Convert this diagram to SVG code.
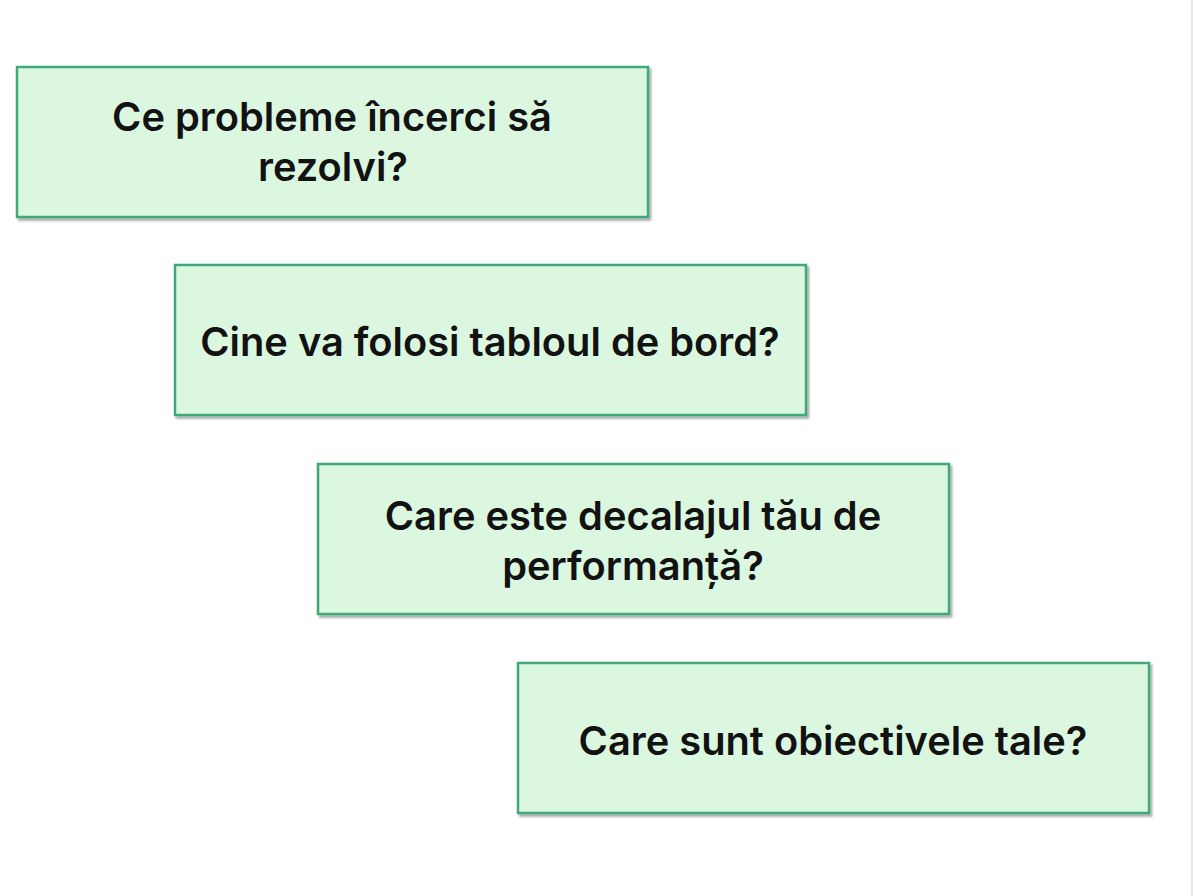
<svg xmlns="http://www.w3.org/2000/svg" width="1193" height="896" viewBox="0 0 1193 896">
<defs>
<style>
.box{fill:#dbf7df;stroke:#3fa97a;stroke-width:2.5;filter:url(#sh)}
.t{font-family:Inter,"Noto Sans",sans-serif;font-weight:600;font-size:39.8px;fill:#121212;text-anchor:middle}
</style>
<filter id="sh" x="-5%" y="-5%" width="110%" height="115%">
<feDropShadow dx="2" dy="2.5" stdDeviation="1.2" flood-color="#000" flood-opacity="0.35"/>
</filter>
</defs>
<rect width="1193" height="896" fill="#fff"/>
<rect x="1191" y="0" width="2" height="896" fill="#e8e8e8"/>
<g id="node1">
<rect class="box" x="17" y="67" width="631" height="150"/>
<text class="t" x="332" y="131">Ce probleme încerci să</text>
<text class="t" x="333" y="181">rezolvi?</text>
</g>
<g id="node2">
<rect class="box" x="175" y="265" width="631" height="150"/>
<text class="t" x="490" y="356">Cine va folosi tabloul de bord?</text>
</g>
<g id="node3">
<rect class="box" x="318" y="464" width="631" height="150"/>
<text class="t" x="633" y="530">Care este decalajul tău de</text>
<text class="t" x="633" y="580">performanță?</text>
</g>
<g id="node4">
<rect class="box" x="518" y="663" width="631" height="150"/>
<text class="t" x="833" y="755">Care sunt obiectivele tale?</text>
</g>
<g id="connectors"></g>
</svg>
